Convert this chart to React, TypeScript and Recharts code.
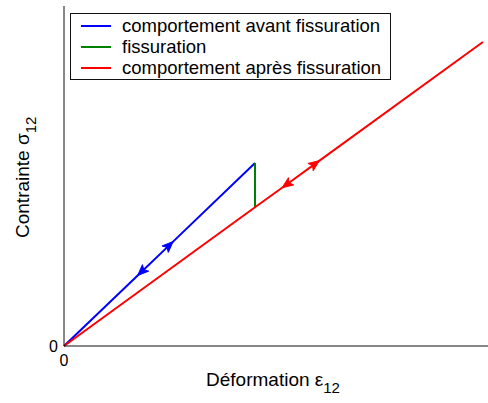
import React from 'react';
import { Line, LineChart, XAxis, YAxis } from 'recharts';

// strain (x) / stress (y), both normalised to the axes' range
const beforeCrack = [
  { x: 0, y: 0 },
  { x: 0.183, y: 0.2185, arrow: -1 },
  { x: 0.248, y: 0.296, arrow: 1 },
  { x: 0.4505, y: 0.538 },
];
const crack = [
  { x: 0.4505, y: 0.538 },
  { x: 0.4505, y: 0.408 },
];
const afterCrack = [
  { x: 0, y: 0 },
  { x: 0.4505, y: 0.408 },
  { x: 0.525, y: 0.475, arrow: -1 },
  { x: 0.592, y: 0.5357, arrow: 1 },
  { x: 0.988, y: 0.894 },
];
const seriesNames = [
  'comportement avant fissuration',
  'fissuration',
  'comportement après fissuration',
];
const seriesColors = ['#0000ff', '#008000', '#ff0000'];
const xTicks = [0];
const yTicks = [0];

const W = 488;
const H = 403;
const LEFT = 64;
const TOP = 6;
const BOTTOM = 57;
const PLOT_W = W - LEFT;
const PLOT_H = H - TOP - BOTTOM;
const FONT = '"Liberation Sans", Arial, Helvetica, sans-serif';
const FRAME = '#111';

function makeArrow(color: string) {
  return (props: any) => {
    const { cx, cy, payload, index } = props;
    if (!payload || !payload.arrow || cx == null || cy == null) return <g key={`n${index}`} />;
    // lines go through the origin, so the direction follows from the point itself
    const ang = Math.atan2(-payload.y * PLOT_H, payload.x * PLOT_W);
    const dx = Math.cos(ang) * payload.arrow;
    const dy = Math.sin(ang) * payload.arrow;
    const len = 5.5;
    const hw = 4.5;
    const tip = [cx + dx * len, cy + dy * len];
    const base = [cx - dx * len, cy - dy * len];
    const px = -dy;
    const py = dx;
    const pts = `${tip[0]},${tip[1]} ${base[0] + px * hw},${base[1] + py * hw} ${base[0] + dx * 2.5},${base[1] + dy * 2.5} ${base[0] - px * hw},${base[1] - py * hw}`;
    return <polygon key={`a${index}`} points={pts} fill={color} stroke={color} strokeWidth={1} />;
  };
}

const XLabel = (props: any) => {
  const vb = props.viewBox || { x: LEFT, y: H - BOTTOM, width: PLOT_W };
  return (
    <text x={vb.x + vb.width / 2 - 3} y={vb.y + 40} textAnchor="middle" fontFamily={FONT} fontSize={19} fill="#000">
      Déformation ε
      <tspan fontSize={15} dy={7}>12</tspan>
    </text>
  );
};

const YLabel = (props: any) => {
  const vb = props.viewBox || { x: 0, y: TOP, width: LEFT, height: PLOT_H };
  const x = vb.x + 29;
  const y = vb.y + vb.height - 108;
  return (
    <text x={x} y={y} transform={`rotate(-90 ${x} ${y})`} textAnchor="start" fontFamily={FONT} fontSize={19} fill="#000">
      Contrainte σ
      <tspan fontSize={15} dy={7}>12</tspan>
    </text>
  );
};

export default function App() {
  const series = [beforeCrack, crack, afterCrack];
  return (
    <div style={{ position: 'absolute', left: 0, top: 0, width: W, height: H, background: '#fff' }}>
      <LineChart width={W} height={H} margin={{ top: TOP, right: 0, bottom: 0, left: 0 }}>
        <XAxis
          xAxisId="top"
          orientation="top"
          type="number"
          domain={[0, 1]}
          height={0}
          tick={false}
          tickLine={false}
          axisLine={{ stroke: FRAME, strokeWidth: 1 }}
        />
        <XAxis
          type="number"
          dataKey="x"
          domain={[0, 1]}
          ticks={xTicks}
          height={BOTTOM}
          tickLine={false}
          tickSize={0}
          tickMargin={9}
          axisLine={{ stroke: FRAME, strokeWidth: 1 }}
          tick={{ fill: '#000', fontSize: 16, fontFamily: FONT }}
          label={{ content: <XLabel /> }}
        />
        <YAxis
          type="number"
          dataKey="y"
          domain={[0, 1]}
          ticks={yTicks}
          width={LEFT}
          tickLine={false}
          tickSize={0}
          tickMargin={6}
          axisLine={{ stroke: FRAME, strokeWidth: 1 }}
          tick={{ fill: '#000', fontSize: 16, fontFamily: FONT }}
          label={{ content: <YLabel /> }}
        />
        {series.map((d, i) => (
          <Line
            key={seriesNames[i]}
            data={d}
            dataKey="y"
            type="linear"
            stroke={seriesColors[i]}
            strokeWidth={2}
            dot={makeArrow(seriesColors[i])}
            activeDot={false}
            isAnimationActive={false}
            name={seriesNames[i]}
          />
        ))}
      </LineChart>
      <div
        style={{
          position: 'absolute',
          left: 70,
          top: 13,
          width: 319,
          height: 65,
          border: `1px solid ${FRAME}`,
          background: '#fff',
          fontFamily: FONT,
          fontSize: 18.5,
          color: '#000',
        }}
      >
        {seriesNames.map((name, i) => (
          <div key={name} style={{ position: 'absolute', left: 0, top: 1 + i * 21, height: 21, display: 'flex', alignItems: 'center' }}>
            <span style={{ display: 'inline-block', marginLeft: 10, width: 30, height: 2, background: seriesColors[i] }} />
            <span style={{ marginLeft: 11, whiteSpace: 'nowrap', lineHeight: '21px' }}>{name}</span>
          </div>
        ))}
      </div>
    </div>
  );
}
